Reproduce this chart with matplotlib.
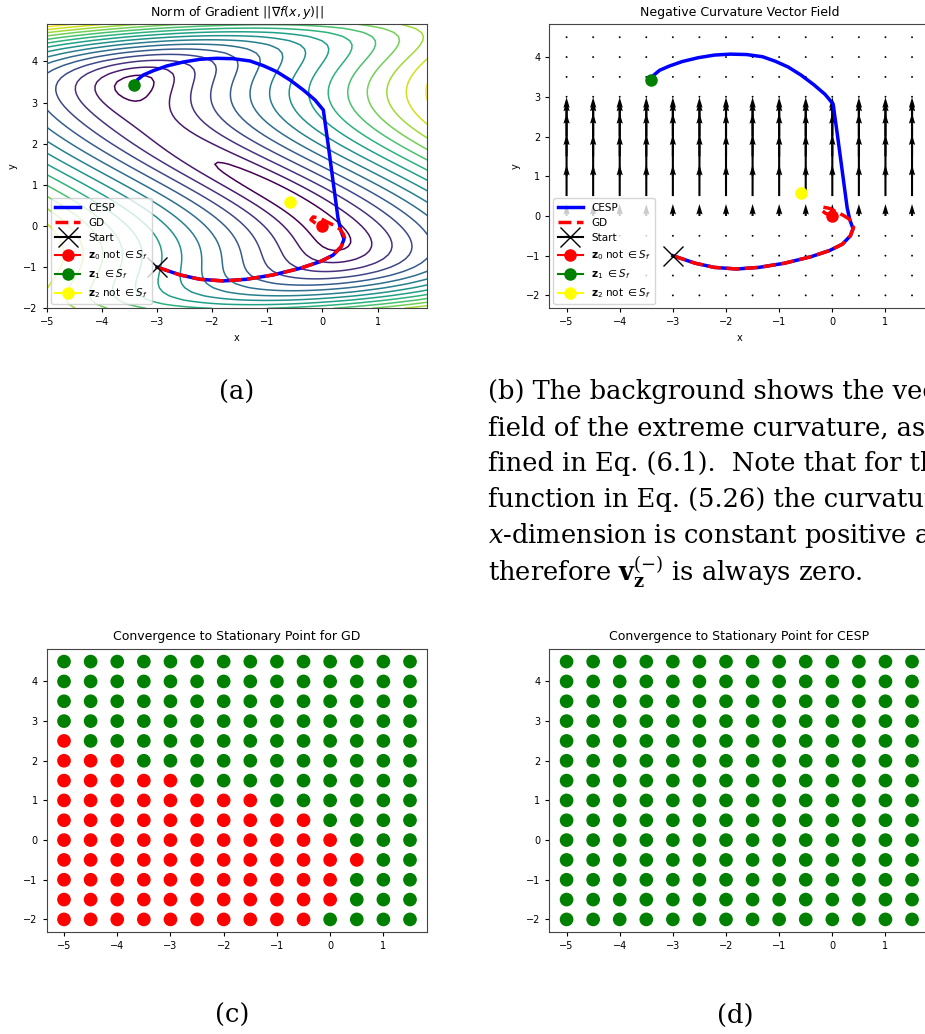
# CESP vs GD on the toy function of Eq. (5.26)

import numpy as np
import matplotlib
matplotlib.use('Agg')
import matplotlib.pyplot as plt

# === Function of Eq. (5.26): f(x,y) = 2x^2 + y^2 + 4xy + 4/3 y^3 - 1/4 y^4 ===
COEF_XX, COEF_YY, COEF_XY, COEF_Y3, COEF_Y4 = 2.0, 1.0, 4.0, 4.0 / 3.0, 0.25

grid_x = np.arange(-5, 2, 0.1)
grid_y = np.arange(-2, 5, 0.1)
contour_levels = np.arange(2, 32, 2)

# Critical points and start
z0 = (0.0, 0.0)
z1 = (-3.414, 3.414)
z2 = (-0.586, 0.586)
start = (-3.0, -1.0)

# Trajectories
gd_x = [-3.0, -2.58, -2.22, -1.80, -1.38, -0.90, -0.41, -0.05, 0.19, 0.34, 0.40,
        0.38, 0.32, 0.20, 0.08, -0.05, -0.17, -0.21, -0.12, 0.0]
gd_y = [-1.0, -1.19, -1.295, -1.335, -1.295, -1.19, -1.03, -0.87, -0.71, -0.50, -0.29,
        -0.20, -0.08, 0.02, 0.10, 0.19, 0.22, 0.15, 0.06, 0.0]
cesp_x = [-3.0, -2.58, -2.22, -1.80, -1.38, -0.90, -0.41, -0.05, 0.19, 0.34, 0.39,
          0.33, 0.28, 0.20, 0.10, 0.015, -0.136, -0.348, -0.589, -0.830, -1.073,
          -1.314, -1.617, -1.918, -2.221, -2.523, -2.825, -3.067, -3.249, -3.40]
cesp_y = [-1.0, -1.19, -1.295, -1.335, -1.295, -1.19, -1.03, -0.87, -0.71, -0.50, -0.32,
          -0.10, 0.2, 1.0, 2.0, 2.818, 3.061, 3.304, 3.547, 3.749, 3.895,
          4.009, 4.064, 4.074, 4.050, 3.984, 3.887, 3.773, 3.668, 3.50]

# Grid of starting points for (b)-(d)
pts_x = np.arange(-5, 2, 0.5)
pts_y = np.arange(-2, 5, 0.5)

# Negative curvature vector (y component) per grid row y=-2..4.5
neg_curv = [0, 0, 0, 0, 2.0, 5.25, 7.0, 7.25, 6.0, 3.25, 0, 0, 0, 0]

# GD: number of red (non-local saddle) points per row from the left, y=-2..4.5
gd_red_count = [10, 11, 11, 12, 11, 10, 8, 5, 3, 1, 0, 0, 0, 0]
# CESP: all converge to local saddle
cesp_red_count = [0] * 14

caption_b = [
    "(b) The background shows the vector",
    "field of the extreme curvature, as de-",
    "fined in Eq. (6.1).  Note that for the",
    "function in Eq. (5.26) the curvature in",
    "$x$-dimension is constant positive and",
    r"therefore $\mathbf{v}_{\mathbf{z}}^{(-)}$ is always zero.",
]

# === Figure ===
W, H = 925, 1034
fig = plt.figure(figsize=(W / 100, H / 100), dpi=100)
plt.rcParams['font.size'] = 7


def px_axes(left, top, right, bottom):
    return fig.add_axes([left / W, 1 - bottom / H, (right - left) / W, (bottom - top) / H])


def style(ax):
    ax.tick_params(labelsize=7, length=3)
    for s in ax.spines.values():
        s.set_color('#444444')


def draw_paths(ax):
    ax.plot(cesp_x, cesp_y, color='blue', lw=2.5, label='CESP')
    ax.plot(gd_x, gd_y, '--', color='red', lw=2.5, label='GD')
    ax.plot([start[0]], [start[1]], marker='x', color='black', ms=14, mew=1.0, label='Start')
    ax.plot([z0[0]], [z0[1]], marker='o', color='red', ms=8, label=r'$\mathbf{z}_0$ not $\in S_f$')
    ax.plot([z1[0]], [z1[1]], marker='o', color='green', ms=8, label=r'$\mathbf{z}_1$ $\in S_f$')
    ax.plot([z2[0]], [z2[1]], marker='o', color='yellow', ms=8, label=r'$\mathbf{z}_2$ not $\in S_f$')
    ax.legend(loc='lower left', fontsize=7.5, borderaxespad=0.4, handlelength=2.4)


# (a) Norm of gradient
ax_a = px_axes(46.7, 24.3, 427.3, 308.3)
X, Y = np.meshgrid(grid_x, grid_y)
gx = 2 * COEF_XX * X + COEF_XY * Y
gy = 2 * COEF_YY * Y + COEF_XY * X + 3 * COEF_Y3 * Y**2 - 4 * COEF_Y4 * Y**3
ax_a.contour(X, Y, np.sqrt(gx**2 + gy**2), levels=contour_levels, cmap='viridis', linewidths=1.1)
draw_paths(ax_a)
ax_a.set_title(r'Norm of Gradient $||\nabla f(x,y)||$', fontsize=9)
ax_a.set_xlabel('x')
ax_a.set_ylabel('y')
style(ax_a)

# (b) Negative curvature vector field
ax_b = px_axes(549.3, 24.3, 929.3, 308.3)
QX, QY = np.meshgrid(pts_x, pts_y)
QV = np.repeat(np.array(neg_curv, dtype=float)[:, None], len(pts_x), axis=1)
ax_b.quiver(QX, QY, np.zeros_like(QV), QV, angles='xy', scale_units='xy', scale=6.67,
            width=0.0055)
draw_paths(ax_b)
ax_b.set_xlim(-5.325, 1.825)
ax_b.set_ylim(-2.325, 4.825)
ax_b.set_title('Negative Curvature Vector Field', fontsize=9)
ax_b.set_xlabel('x')
ax_b.set_ylabel('y')
style(ax_b)


# (c), (d) Convergence grids
def conv_panel(ax, red_count, title):
    cols = []
    for i, n in enumerate(red_count):
        for j in range(len(pts_x)):
            cols.append('red' if j < n else 'green')
    ax.scatter(QX.ravel(), QY.ravel(), c=cols, s=78)
    ax.set_xlim(-5.325, 1.825)
    ax.set_ylim(-2.325, 4.825)
    ax.set_title(title, fontsize=9)
    style(ax)


ax_c = px_axes(46.7, 648.7, 427.3, 932.3)
conv_panel(ax_c, gd_red_count, 'Convergence to Stationary Point for GD')
ax_d = px_axes(549.3, 648.7, 929.3, 932.3)
conv_panel(ax_d, cesp_red_count, 'Convergence to Stationary Point for CESP')

# === Captions ===
cap = dict(family='DejaVu Serif', fontsize=18.5, math_fontfamily='dejavuserif')
fig.text(237 / W, 1 - 392 / H, '(a)', ha='center', va='center', **cap)
for k, line in enumerate(caption_b):
    fig.text(488 / W, 1 - (392 + 36 * k) / H, line, ha='left', va='center', **cap)
fig.text(232 / W, 1 - 1015 / H, '(c)', ha='center', va='center', **cap)
fig.text(735 / W, 1 - 1015 / H, '(d)', ha='center', va='center', **cap)

fig.savefig('out.png', dpi=100)
